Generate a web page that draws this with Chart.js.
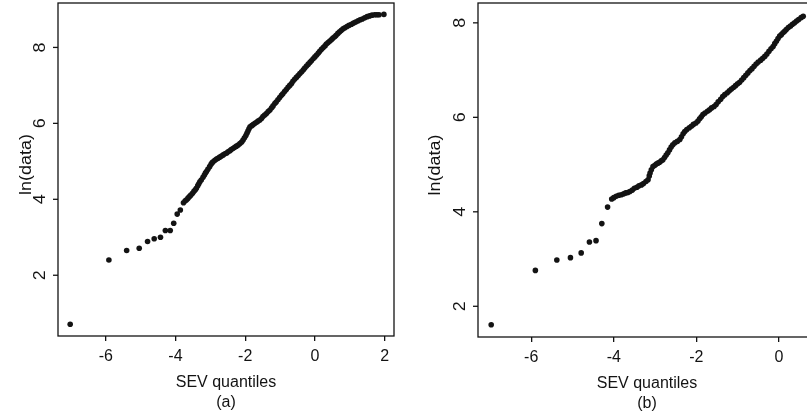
<!DOCTYPE html>
<html>
<head>
<meta charset="utf-8">
<script src="https://cdn.jsdelivr.net/npm/chart.js@4"></script>
<style>
    html, body { margin: 0; padding: 0; background: #fff; overflow: hidden; }
    #page { position: relative; width: 807px; height: 415px; overflow: hidden; }
    .panel { position: absolute; top: 0; }
    #panelA { left: 0; }
    #panelB { left: 400px; }
</style>
</head>
<body>
<div id="page">
    <div class="panel" id="panelA"><canvas id="chartA" width="400" height="415"></canvas></div>
    <div class="panel" id="panelB"><canvas id="chartB" width="430" height="415"></canvas></div>
</div>
<script>
// Panel (a): SEV quantiles vs ln(data)
const sevA = [
    -7.02, -5.91, -5.40, -5.04, -4.80, -4.61, -4.43, -4.29, -4.15, -4.05, -3.95, -3.86, -3.77,
    -3.72, -3.68, -3.64, -3.60, -3.56, -3.51, -3.47, -3.43, -3.40, -3.36, -3.33, -3.30, -3.26,
    -3.21, -3.17, -3.14, -3.11, -3.07, -3.02, -2.98, -2.95, -2.92, -2.87, -2.82, -2.78, -2.73,
    -2.68, -2.63, -2.58, -2.53, -2.49, -2.44, -2.40, -2.35, -2.30, -2.25, -2.20, -2.15, -2.10,
    -2.06, -2.02, -1.98, -1.95, -1.92, -1.89, -1.86, -1.81, -1.77, -1.72, -1.67, -1.63, -1.58,
    -1.53, -1.49, -1.44, -1.39, -1.34, -1.29, -1.24, -1.20, -1.15, -1.11, -1.06, -1.01, -0.96,
    -0.92, -0.87, -0.82, -0.77, -0.72, -0.67, -0.63, -0.58, -0.53, -0.48, -0.43, -0.38, -0.33,
    -0.29, -0.24, -0.19, -0.14, -0.10, -0.05, 0.00, 0.05, 0.10, 0.14, 0.19, 0.24, 0.29, 0.33,
    0.38, 0.43, 0.48, 0.52, 0.57, 0.61, 0.66, 0.71, 0.76, 0.81, 0.86, 0.92, 0.98, 1.05, 1.11,
    1.17, 1.24, 1.30, 1.36, 1.43, 1.50, 1.57, 1.64, 1.72, 1.78, 1.84, 1.98
];
const lnA = [
    0.71, 2.40, 2.65, 2.71, 2.89, 2.96, 3.00, 3.18, 3.18, 3.37, 3.61, 3.72, 3.91,
    3.96, 3.99, 4.03, 4.07, 4.11, 4.16, 4.21, 4.25, 4.29, 4.36, 4.41, 4.46, 4.51,
    4.58, 4.64, 4.69, 4.73, 4.79, 4.86, 4.92, 4.96, 4.99, 5.03, 5.06, 5.08, 5.11,
    5.14, 5.17, 5.20, 5.22, 5.25, 5.28, 5.31, 5.34, 5.37, 5.40, 5.43, 5.47, 5.51,
    5.56, 5.62, 5.68, 5.74, 5.80, 5.86, 5.91, 5.94, 5.97, 6.00, 6.03, 6.06, 6.09,
    6.13, 6.18, 6.22, 6.26, 6.31, 6.35, 6.41, 6.46, 6.52, 6.56, 6.62, 6.68, 6.74,
    6.78, 6.84, 6.89, 6.95, 7.00, 7.05, 7.11, 7.16, 7.21, 7.26, 7.31, 7.36, 7.41,
    7.46, 7.51, 7.56, 7.61, 7.65, 7.70, 7.75, 7.80, 7.85, 7.90, 7.95, 8.00, 8.04, 8.09,
    8.13, 8.17, 8.21, 8.25, 8.28, 8.32, 8.37, 8.41, 8.45, 8.49, 8.52, 8.55, 8.58, 8.61, 8.64,
    8.67, 8.70, 8.73, 8.75, 8.78, 8.81, 8.83, 8.85, 8.86, 8.86, 8.86, 8.87
];

// Panel (b)
const sevB = [
    -6.97, -5.90, -5.38, -5.05, -4.79, -4.59, -4.43, -4.29, -4.15, -4.05,
    -4.00, -3.94, -3.88, -3.82, -3.76, -3.71, -3.66, -3.61, -3.55, -3.50, -3.44, -3.39,
    -3.33, -3.28, -3.22, -3.17, -3.14, -3.12, -3.09, -3.05, -3.01, -2.97, -2.93, -2.89,
    -2.85, -2.81, -2.77, -2.73, -2.69, -2.65, -2.61, -2.57, -2.52, -2.46, -2.40, -2.36,
    -2.32, -2.28, -2.23, -2.17, -2.12, -2.07, -2.01, -1.96, -1.92, -1.88, -1.84, -1.79,
    -1.73, -1.68, -1.63, -1.57, -1.52, -1.47, -1.41, -1.36, -1.31, -1.25, -1.20, -1.15,
    -1.10, -1.05, -1.00, -0.95, -0.90, -0.85, -0.80, -0.75, -0.70, -0.65, -0.60, -0.55,
    -0.50, -0.44, -0.39, -0.34, -0.29, -0.24, -0.19, -0.14, -0.10, -0.06, -0.02, 0.02,
    0.06, 0.10, 0.14, 0.18, 0.23, 0.28, 0.33, 0.38, 0.43, 0.48, 0.54, 0.59
];
const lnB = [
    1.61, 2.76, 2.98, 3.03, 3.13, 3.36, 3.39, 3.75, 4.10, 4.27,
    4.30, 4.33, 4.35, 4.36, 4.38, 4.40, 4.41, 4.43, 4.46, 4.50, 4.52, 4.55,
    4.57, 4.60, 4.64, 4.68, 4.76, 4.82, 4.89, 4.96, 4.98, 5.01, 5.03, 5.05,
    5.08, 5.10, 5.15, 5.20, 5.25, 5.31, 5.37, 5.42, 5.46, 5.49, 5.53, 5.59,
    5.65, 5.70, 5.74, 5.78, 5.81, 5.85, 5.88, 5.92, 5.97, 6.01, 6.06, 6.09,
    6.13, 6.16, 6.20, 6.23, 6.27, 6.33, 6.38, 6.44, 6.48, 6.52, 6.56, 6.60,
    6.63, 6.67, 6.71, 6.74, 6.79, 6.84, 6.89, 6.94, 6.99, 7.03, 7.08, 7.13,
    7.17, 7.21, 7.25, 7.29, 7.34, 7.40, 7.45, 7.50, 7.56, 7.61, 7.67, 7.72,
    7.75, 7.79, 7.82, 7.86, 7.90, 7.93, 7.97, 8.00, 8.04, 8.07, 8.11, 8.14
];

const xTicksA = [-6, -4, -2, 0, 2];
const yTicksA = [2, 4, 6, 8];
const xTicksB = [-6, -4, -2, 0];
const yTicksB = [2, 4, 6, 8];
const xTitle = "SEV quantiles";
const yTitle = "ln(data)";
const captionA = "(a)";
const captionB = "(b)";

const FONT = '"Liberation Sans", Arial, Helvetica, sans-serif';
const INK = "#131313";

// R-style frame: box, rotated y tick labels and y title
const rFrame = {
    id: "rFrame",
    afterDraw(chart, args, o) {
        const { ctx, chartArea: a, scales: { y } } = chart;
        ctx.save();
        ctx.strokeStyle = INK;
        ctx.lineWidth = 1.3;
        ctx.strokeRect(a.left, a.top, a.right - a.left, a.bottom - a.top);

        ctx.fillStyle = INK;
        ctx.font = "16px " + FONT;
        ctx.textAlign = "center";
        ctx.textBaseline = "middle";
        y.ticks.forEach(t => {
            const py = y.getPixelForValue(t.value);
            ctx.beginPath();
            ctx.moveTo(a.left, py);
            ctx.lineTo(a.left - 5, py);
            ctx.stroke();
            ctx.save();
            ctx.translate(a.left - o.labelGap, py);
            ctx.rotate(-Math.PI / 2);
            ctx.scale(o.stretch, 1);
            ctx.fillText(String(t.value), 0, 0);
            ctx.restore();
        });

        ctx.save();
        ctx.translate(a.left - o.titleGap, (a.top + a.bottom) / 2 + o.titleShift);
        ctx.rotate(-Math.PI / 2);
        ctx.scale(o.stretch, 1);
        ctx.fillText(yTitle, 0, 0);
        ctx.restore();
        ctx.restore();
    }
};

function makeChart(id, xs, ys, xTicks, yTicks, caption, cfg) {
    const points = xs.map((x, i) => ({ x: x, y: ys[i] }));
    return new Chart(document.getElementById(id).getContext("2d"), {
        type: "scatter",
        data: {
            datasets: [{
                data: points,
                backgroundColor: INK,
                borderWidth: 0,
                pointRadius: 2.8,
                pointHoverRadius: 2.8
            }]
        },
        options: {
            responsive: false,
            animation: false,
            events: [],
            layout: { padding: { left: 0, top: cfg.top, right: cfg.right, bottom: 0 } },
            plugins: {
                legend: { display: false },
                tooltip: { enabled: false },
                rFrame: { labelGap: cfg.labelGap, titleGap: cfg.titleGap, titleShift: cfg.titleShift, stretch: cfg.stretch }
            },
            scales: {
                x: {
                    type: "linear",
                    min: cfg.xMin,
                    max: cfg.xMax,
                    afterBuildTicks: s => { s.ticks = xTicks.map(v => ({ value: v })); },
                    afterFit: s => { s.height = cfg.xHeight; },
                    border: { display: false },
                    grid: { drawOnChartArea: false, drawTicks: true, tickLength: 5, color: INK, lineWidth: 1.3 },
                    ticks: { color: INK, padding: cfg.tickPad, maxRotation: 0, font: { family: FONT, size: 16, lineHeight: 1.2 } },
                    title: {
                        display: true,
                        text: [xTitle, caption],
                        color: INK,
                        padding: { top: 0, bottom: cfg.titlePad },
                        font: { family: FONT, size: 16, lineHeight: 1.25 }
                    }
                },
                y: {
                    type: "linear",
                    min: cfg.yMin,
                    max: cfg.yMax,
                    afterBuildTicks: s => { s.ticks = yTicks.map(v => ({ value: v })); },
                    afterFit: s => { s.width = cfg.yWidth; },
                    border: { display: false },
                    grid: { display: false },
                    ticks: { display: false }
                }
            }
        },
        plugins: [rFrame]
    });
}

makeChart("chartA", sevA, lnA, xTicksA, yTicksA, captionA, {
    xMin: -7.37, xMax: 2.27, yMin: 0.40, yMax: 9.17,
    top: 3, right: 6, yWidth: 58, xHeight: 79,
    tickPad: 6, titlePad: 2, labelGap: 17, titleGap: 31, titleShift: -5, stretch: 1.12
});

makeChart("chartB", sevB, lnB, xTicksB, yTicksB, captionB, {
    xMin: -7.29, xMax: 0.90, yMin: 1.35, yMax: 8.42,
    top: 3, right: 14, yWidth: 78, xHeight: 78,
    tickPad: 6, titlePad: 1, labelGap: 17, titleGap: 42, titleShift: -5, stretch: 1.12
});
</script>
</body>
</html>
